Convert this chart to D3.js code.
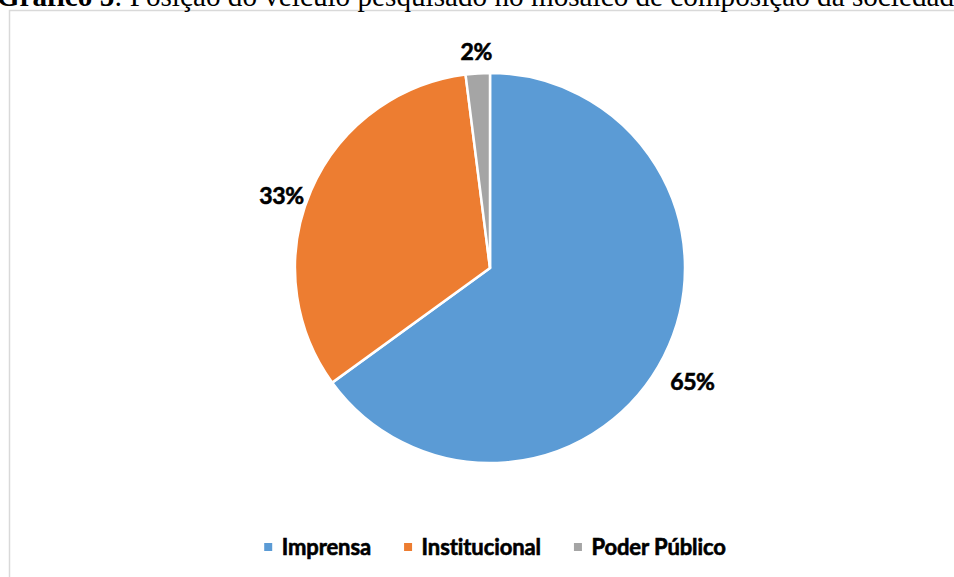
<html>
<head>
<meta charset="utf-8">
<script src="https://d3js.org/d3.v7.min.js"></script>
<style>
body {margin:0; background:#fff;}
.lbl {font-family: Lato, "Open Sans", sans-serif; font-weight:bold; fill:#000; stroke:#000; stroke-width:0.6px; letter-spacing:-0.4px;}
.leg {letter-spacing:-0.1px;}
</style>
</head>
<body>
<svg width="954" height="577"></svg>
<script>
const categories = ["Imprensa", "Institucional", "Poder Público"];
const values = [65, 33, 2];
const colors = ["#5b9bd5", "#ed7d31", "#a5a5a5"];
const titleBold = "Gráfico 5";
const titleRest = ": Posição do veículo pesquisado no mosaico de composição da sociedade";

const svg = d3.select("svg");
const cx = 490, cy = 268, radius = 195;

// chart frame (runs past the window on the right and bottom)
svg.append("rect")
  .attr("x", 9.5).attr("y", 10.5)
  .attr("width", 1000).attr("height", 600)
  .attr("fill", "#fff")
  .attr("stroke", "#d9d9d9").attr("stroke-width", 1.5);

// caption, cut off by the top edge
const title = svg.append("text")
  .attr("x", 967).attr("y", 6)
  .attr("text-anchor", "end")
  .style("font-family", "'Liberation Serif', 'Times New Roman', serif")
  .style("font-size", "29.2px")
  .attr("fill", "#000");
title.append("tspan").style("font-weight", "bold").text(titleBold);
title.append("tspan").text(titleRest);

const pie = d3.pie().sort(null).value(d => d);
const arcs = pie(values);
const arc = d3.arc().innerRadius(0).outerRadius(radius);

const g = svg.append("g").attr("transform", "translate(" + cx + "," + cy + ")");
g.selectAll("path").data(arcs).enter().append("path")
  .attr("d", arc)
  .attr("fill", (d, i) => colors[i])
  .attr("stroke", "#fff")
  .attr("stroke-width", 2.5)
  .attr("stroke-linejoin", "miter");

// outside-end data labels
const labelR = radius + 10;
g.selectAll("text.lbl").data(arcs).enter().append("text")
  .attr("class", "lbl")
  .style("font-size", "23px")
  .attr("text-anchor", "middle")
  .text(d => d.data + "%")
  .each(function(d) {
    const a = (d.startAngle + d.endAngle) / 2;
    const s = Math.sin(a), c = Math.cos(a);
    const b = this.getBBox();
    const x = s * labelR + s * b.width / 2;
    const y = -c * labelR - c * b.height / 2 + 14 * Math.abs(s);
    d3.select(this).attr("x", x).attr("y", y + b.height * 0.35);
  });

// legend
const legend = svg.append("g");
let lx = 0;
const items = legend.selectAll("g").data(categories).enter().append("g");
items.append("rect")
  .attr("y", -12).attr("width", 8).attr("height", 8)
  .attr("fill", (d, i) => colors[i]);
items.append("text")
  .attr("class", "lbl leg")
  .attr("x", 17.5)
  .style("font-size", "22px")
  .text(d => d);
items.each(function() {
  d3.select(this).attr("transform", "translate(" + lx + ",0)");
  lx += 17.5 + this.querySelector("text").getComputedTextLength() + 33;
});
const legW = lx - 33;
legend.attr("transform", "translate(" + (495 - legW / 2) + ",555)");
</script>
</body>
</html>
